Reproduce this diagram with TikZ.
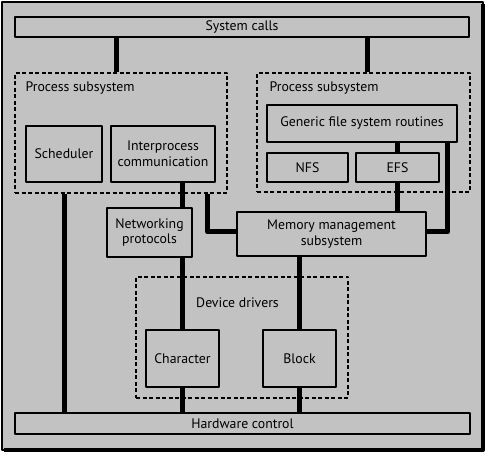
\documentclass[tikz,border=0pt]{standalone}
\usepackage{fontspec}
\setmainfont{PT Sans}
\definecolor{panel}{gray}{0.76}
\begin{document}
\begin{tikzpicture}[x=1pt,y=-1pt,line join=round,
		box/.style={draw,fill=panel,line width=1.2pt,inner sep=0pt,align=center,font=\fontsize{13.8}{15.5}\selectfont},
		group/.style={draw,dash pattern=on 4pt off 2.5pt,line width=1.2pt,inner sep=0pt},
		grouptitle/.style={inner sep=0pt,font=\fontsize{13.8}{15.5}\selectfont},
		link/.style={line width=5pt,line cap=butt}]
	\useasboundingbox (0,0) rectangle (488,454);
	% frame with shadow edge
	\draw[fill=panel,line width=1.2pt] (2,2) rectangle (483,450);
	\draw[line width=4pt] (483,4)--(483,450)--(4,450);
	% layers
	\node[box,minimum width=454pt,minimum height=20pt] (sys) at (242,27) {System calls};
	\node[box,minimum width=455pt,minimum height=21pt] (hw) at (242.5,423.5) {Hardware control};
	% subsystems
	\node[group,minimum width=212pt,minimum height=120pt] (lproc) at (121,133) {};
	\node[group,minimum width=213pt,minimum height=119pt] (rproc) at (363.5,132.5) {};
	\node[group,minimum width=212pt,minimum height=121pt] (dev) at (242,337.5) {};
	\node[grouptitle,anchor=west] (lprocname) at ([shift={(11,16)}]lproc.north west) {Process subsystem};
	\node[grouptitle,anchor=west] (rprocname) at ([shift={(13,16)}]rproc.north west) {Process subsystem};
	\node[grouptitle] (devname) at ([shift={(-4.5,26)}]dev.north) {Device drivers};
	% modules
	\node[box,minimum width=76pt,minimum height=56pt] (sched) at (64,154) {Scheduler};
	\node[box,minimum width=104pt,minimum height=56pt] (ipc) at (163,154) {Interprocess\\communication};
	\node[box,minimum width=190pt,minimum height=37pt] (gen) at (362,123.5) {Generic file system routines};
	\node[box,minimum width=81pt,minimum height=29pt] (nfs) at (307.5,167.5) {NFS};
	\node[box,minimum width=83pt,minimum height=29pt] (efs) at (397.5,167.5) {EFS};
	\node[box,minimum width=85pt,minimum height=49pt] (net) at (149.5,232.5) {Networking\\protocols};
	\node[box,minimum width=189pt,minimum height=44pt] (mem) at (331.5,234) {Memory management\\subsystem};
	\node[box,minimum width=73pt,minimum height=57pt] (char) at (182.5,358.5) {Character};
	\node[box,minimum width=73pt,minimum height=57pt] (block) at (299.5,358.5) {Block};
	% connections
	\draw[link] ([xshift=-5pt]lproc.north) -- ([xshift=-5pt]lproc.north |- sys.south);
	\draw[link] ([xshift=3.5pt]rproc.north) -- ([xshift=3.5pt]rproc.north |- sys.south);
	\draw[link] (sched.south |- lproc.south) -- (sched.south |- hw.north);
	\draw[link] (char.north |- ipc.south) -- (char.north |- net.north);
	\draw[link] (char.north |- net.south) -- (char.north);
	\draw[link] (char.south) -- (char.south |- hw.north);
	\draw[link] ([xshift=-20pt]lproc.south east) |- ([yshift=2pt]mem.west);
	\draw[link] (efs.north) -- (efs.north |- gen.south);
	\draw[link] (efs.south) -- (efs.south |- mem.north);
	\draw[link] ([xshift=-10pt]gen.south east) |- ([yshift=2pt]mem.east);
	\draw[link] (block.north |- mem.south) -- (block.north);
	\draw[link] (block.south) -- (block.south |- hw.north);
\end{tikzpicture}
\end{document}
